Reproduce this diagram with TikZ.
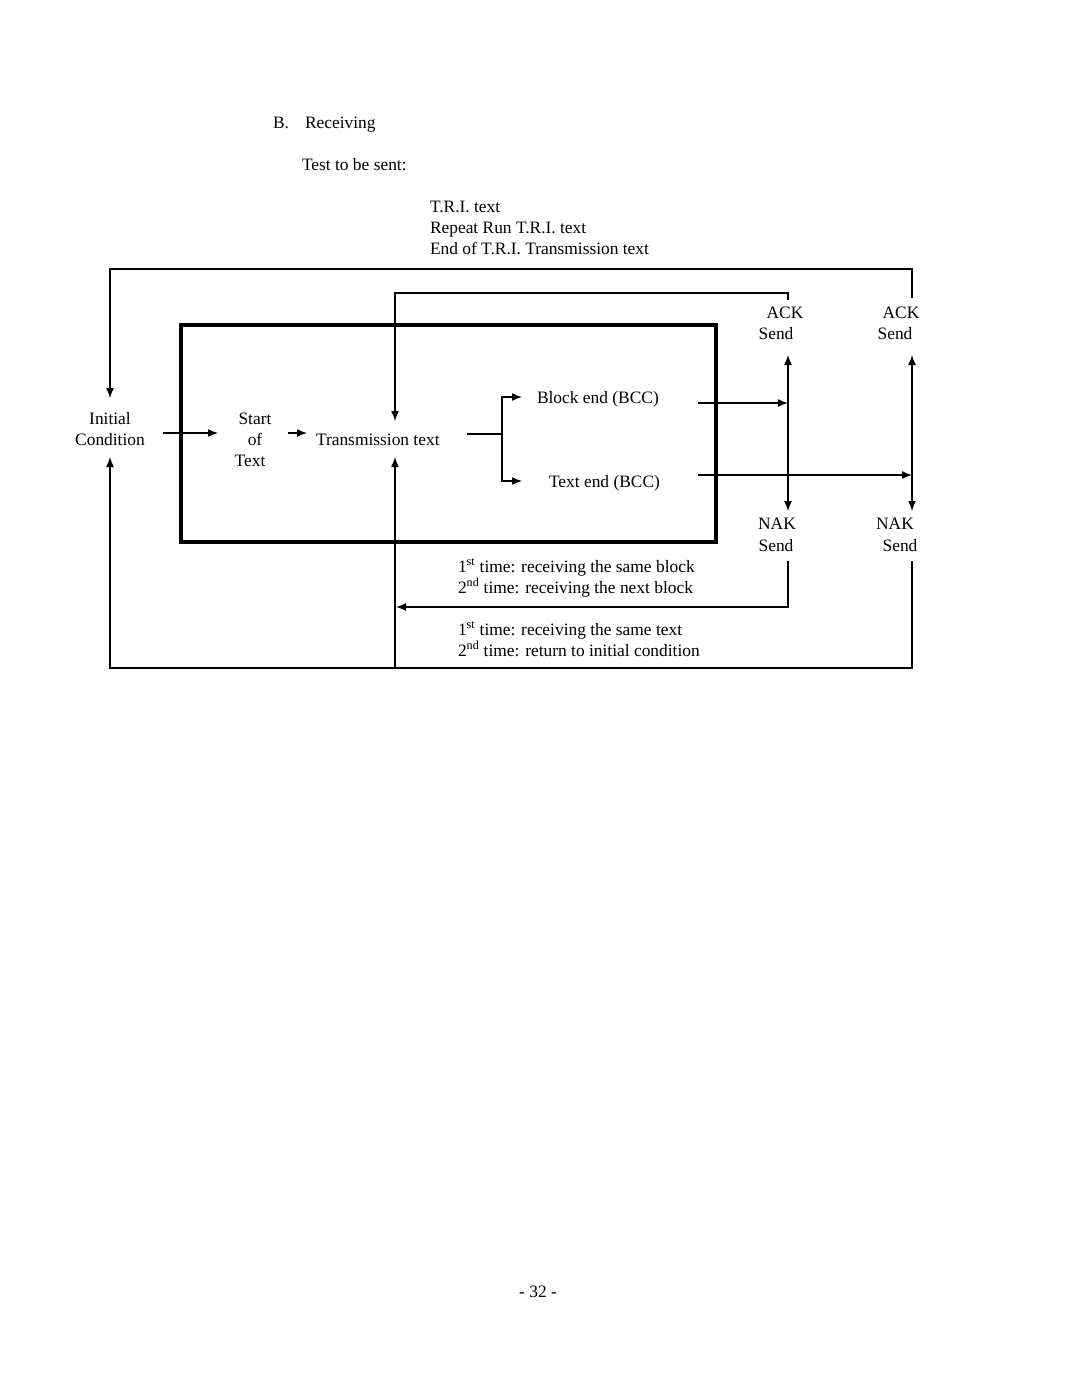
\documentclass[tikz,border=0pt]{standalone}
\usepackage{fontspec}
\setmainfont{Liberation Serif}
\usetikzlibrary{arrows.meta}
\begin{document}
\begin{tikzpicture}[x=1pt,y=-1pt,
  every node/.style={inner sep=0pt,outer sep=0pt,font=\fontsize{17.4}{21}\selectfont},
  ln/.style={line width=1.4pt},
  arr/.style={ln,-{Latex[length=10pt,width=8pt]}},
  darr/.style={ln,{Latex[length=10pt,width=8pt]}-{Latex[length=10pt,width=8pt]}},
  lt/.style={anchor=base west},
  ct/.style={anchor=base}]
\useasboundingbox[fill=white] (0,0) rectangle (1080,1397);
% headings
\node[lt] (hB) at (273,128) {B.};
\node[lt] (hR) at (305,128) {Receiving};
\node[lt] (hT) at (302,170) {Test to be sent:};
\node[lt] (t1) at (430,212) {T.R.I. text};
\node[lt] (t2) at (430,233) {Repeat Run T.R.I. text};
\node[lt] (t3) at (430,254) {End of T.R.I. Transmission text};
% thick box
\draw[line width=3.5pt] (181,325) rectangle (716,542);
% nodes
\node[ct] (ini1) at (110,424) {Initial};
\node[ct] (ini2) at (110,445) {Condition};
\node[ct] (st1) at (255,424) {Start};
\node[ct] (st2) at (255,445) {of};
\node[ct] (st3) at (250,466) {Text};
\node[lt] (tt) at (316,445) {Transmission text};
\node[lt] (be) at (537,403) {Block end (BCC)};
\node[lt] (te) at (549,487) {Text end (BCC)};
\node[ct] (ack1a) at (785,318) {ACK};
\node[ct] (ack1b) at (776,339) {Send};
\node[ct] (ack2a) at (901,318) {ACK};
\node[ct] (ack2b) at (895,339) {Send};
\node[ct] (nak1a) at (777,529) {NAK};
\node[ct] (nak1b) at (776,551) {Send};
\node[ct] (nak2a) at (895,529) {NAK};
\node[ct] (nak2b) at (900,551) {Send};
\node[lt] (m1) at (458,572) {1\textsuperscript{st} time: receiving the same block};
\node[lt] (m2) at (458,593) {2\textsuperscript{nd} time: receiving the next block};
\node[lt] (m3) at (458,635) {1\textsuperscript{st} time: receiving the same text};
\node[lt] (m4) at (458,656) {2\textsuperscript{nd} time: return to initial condition};
\node[ct] (pg) at (538,1297) {- 32 -};
% routing coordinates
\coordinate (a1) at (163,433);
\coordinate (a2) at (218,433);
\coordinate (b1) at (288,433);
\coordinate (b2) at (307,433);
\coordinate (c1) at (467,434);
\coordinate (c2) at (502,434);
\coordinate (cTopE) at (522,397);
\coordinate (cBotE) at (522,481);
\coordinate (d1) at (698,403);
\coordinate (d2) at (788,403);
\coordinate (e1) at (698,475);
\coordinate (e2) at (912,475);
\coordinate (v1t) at (788,355);
\coordinate (v1b) at (788,511);
\coordinate (v2t) at (912,355);
\coordinate (v2b) at (912,511);
\coordinate (ackR) at (912,298);
\coordinate (ackL) at (788,300);
\coordinate (topO) at (110,269);
\coordinate (iniTop) at (110,398);
\coordinate (iniBot) at (110,457);
\coordinate (topI) at (395,293);
\coordinate (ttTop) at (395,421);
\coordinate (ttBot) at (395,457);
\coordinate (nak1d) at (788,561);
\coordinate (nak2d) at (912,561);
\coordinate (retI) at (396,607);
\coordinate (botL) at (110,668);
\coordinate (botI) at (395,668);
% connectors
\draw[arr] (a1) -- (a2);
\draw[arr] (b1) -- (b2);
\draw[ln] (c1) -- (c2);
\draw[arr] (c2) |- (cTopE);
\draw[arr] (c2) |- (cBotE);
\draw[arr] (d1) -- (d2);
\draw[arr] (e1) -- (e2);
\draw[darr] (v1t) -- (v1b);
\draw[darr] (v2t) -- (v2b);
\draw[arr] (ackR) |- (topO) -- (iniTop);
\draw[arr] (ackL) |- (topI) -- (ttTop);
\draw[arr] (nak1d) |- (retI);
\draw[arr] (nak2d) |- (botL) -- (iniBot);
\draw[arr] (botI) -- (ttBot);
\end{tikzpicture}
\end{document}
